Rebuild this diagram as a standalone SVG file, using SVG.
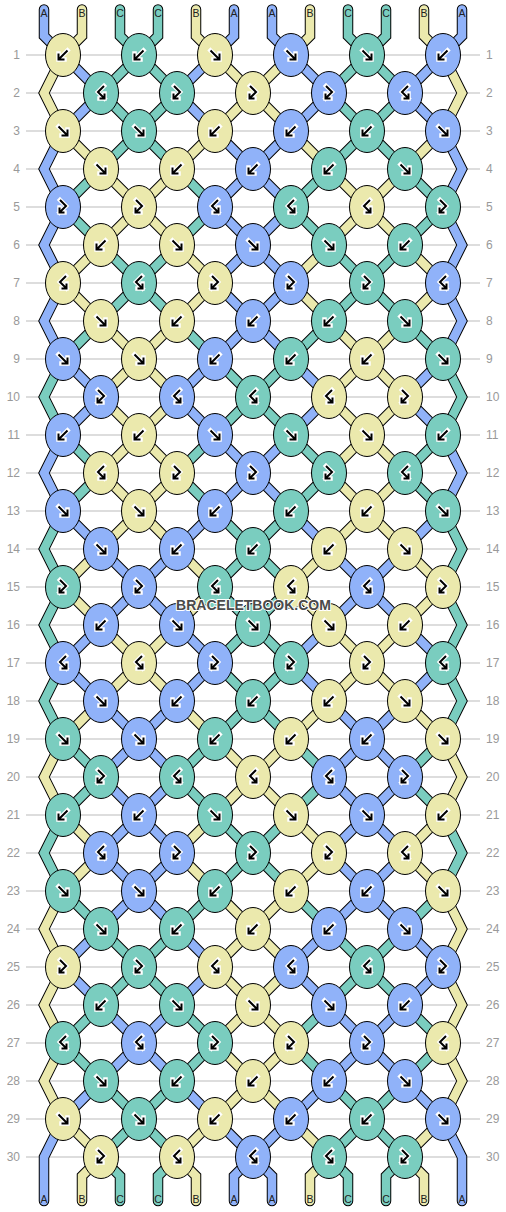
<svg xmlns="http://www.w3.org/2000/svg" width="506" height="1212" viewBox="0 0 506 1212">
<style>
.grid{stroke:#bbb;stroke-width:1;fill:none}
.num{font-family:"Liberation Sans",Arial,sans-serif;font-size:12px;fill:#999}
.nl{text-anchor:end}
.lab{font-family:"Liberation Sans",Arial,sans-serif;font-size:10.5px;fill:#222;text-anchor:middle}
.ol{fill:none;stroke:#000;stroke-width:10.5}
.fl{fill:none;stroke-width:8.5}
.sA{stroke:#90b2f9}.sB{stroke:#ebe9ad}.sC{stroke:#7acdbf}
.kA{fill:#90b2f9}.kB{fill:#ebe9ad}.kC{fill:#7acdbf}
ellipse{stroke:#000;stroke-width:1}
.aw{fill:none;stroke:#fff;stroke-width:4.5;stroke-linecap:square}
.ab{fill:none;stroke:#000;stroke-width:2}
.wm{font-family:"Liberation Sans",Arial,sans-serif;font-size:14px;font-weight:bold;fill:#4a4a4a;stroke:#fff;stroke-width:2;paint-order:stroke;text-anchor:middle}
</style>
<defs>
<path id="oa" d="M215,0L253,38M291,0L253,38"/>
<path id="ob" d="M63,0L101,38M215,0L177,38M291,0L329,38M443,0L405,38"/>
<path id="oc" d="M139,0L101,38M139,0L177,38M367,0L329,38M367,0L405,38"/>
<path id="ea" d="M253,0L215,38M253,0L291,38"/>
<path id="eb" d="M101,0L63,38M177,0L215,38M329,0L291,38M405,0L443,38"/>
<path id="ec" d="M101,0L139,38M177,0L139,38M329,0L367,38M405,0L367,38"/>
<path id="ch" d="M63,0L44,38L63,76M443,0L462,38L443,76"/>
<g id="oall"><use href="#oa"/><use href="#ob"/><use href="#oc"/></g>
<g id="eall"><use href="#ea"/><use href="#eb"/><use href="#ec"/></g>
<path id="tpA" stroke-linecap="round" d="M44,9.5V36L63,55M234,9.5V36L215,55M272,9.5V36L291,55M462,9.5V36L443,55"/>
<path id="tpB" stroke-linecap="round" d="M82,9.5V36L63,55M196,9.5V36L215,55M310,9.5V36L291,55M424,9.5V36L443,55"/>
<path id="tpC" stroke-linecap="round" d="M120,9.5V36L139,55M158,9.5V36L139,55M348,9.5V36L367,55M386,9.5V36L367,55"/>
<path id="btA" stroke-linecap="round" d="M63,1119L44,1157V1201M443,1119L462,1157V1201M253,1157L234,1176V1201M253,1157L272,1176V1201"/>
<path id="btB" stroke-linecap="round" d="M101,1157L82,1176V1201M177,1157L196,1176V1201M329,1157L310,1176V1201M405,1157L424,1176V1201"/>
<path id="btC" stroke-linecap="round" d="M101,1157L120,1176V1201M177,1157L158,1176V1201M329,1157L348,1176V1201M405,1157L386,1176V1201"/>
<g id="aF"><path class="aw" d="M-4.5,-4.5L4,4M4.5,-1.5V4.5H-1.5"/><path class="ab" d="M-4.5,-4.5L4,4M4.5,-1.5V4.5H-1.5"/></g>
<g id="aB"><path class="aw" d="M4.5,-4.5L-4,4M-4.5,-1.5V4.5H1.5"/><path class="ab" d="M4.5,-4.5L-4,4M-4.5,-1.5V4.5H1.5"/></g>
<g id="afb"><path class="aw" d="M-3,-7L3,-1L-3.5,5.5M-3.5,0.5V5.5H1.5"/><path class="ab" d="M-3,-7L3,-1L-3.5,5.5M-3.5,0.5V5.5H1.5"/></g>
<g id="abf"><path class="aw" d="M3,-7L-3,-1L3.5,5.5M3.5,0.5V5.5H-1.5"/><path class="ab" d="M3,-7L-3,-1L3.5,5.5M3.5,0.5V5.5H-1.5"/></g>
</defs>
<rect width="506" height="1212" fill="#fff"/>
<path class="grid" d="M26,55H480M26,93H480M26,131H480M26,169H480M26,207H480M26,245H480M26,283H480M26,321H480M26,359H480M26,397H480M26,435H480M26,473H480M26,511H480M26,549H480M26,587H480M26,625H480M26,663H480M26,701H480M26,739H480M26,777H480M26,815H480M26,853H480M26,891H480M26,929H480M26,967H480M26,1005H480M26,1043H480M26,1081H480M26,1119H480M26,1157H480"/>
<g id="row-numbers">
<text class="num nl" x="20" y="59">1</text><text class="num" x="486" y="59">1</text>
<text class="num nl" x="20" y="97">2</text><text class="num" x="486" y="97">2</text>
<text class="num nl" x="20" y="135">3</text><text class="num" x="486" y="135">3</text>
<text class="num nl" x="20" y="173">4</text><text class="num" x="486" y="173">4</text>
<text class="num nl" x="20" y="211">5</text><text class="num" x="486" y="211">5</text>
<text class="num nl" x="20" y="249">6</text><text class="num" x="486" y="249">6</text>
<text class="num nl" x="20" y="287">7</text><text class="num" x="486" y="287">7</text>
<text class="num nl" x="20" y="325">8</text><text class="num" x="486" y="325">8</text>
<text class="num nl" x="20" y="363">9</text><text class="num" x="486" y="363">9</text>
<text class="num nl" x="20" y="401">10</text><text class="num" x="486" y="401">10</text>
<text class="num nl" x="20" y="439">11</text><text class="num" x="486" y="439">11</text>
<text class="num nl" x="20" y="477">12</text><text class="num" x="486" y="477">12</text>
<text class="num nl" x="20" y="515">13</text><text class="num" x="486" y="515">13</text>
<text class="num nl" x="20" y="553">14</text><text class="num" x="486" y="553">14</text>
<text class="num nl" x="20" y="591">15</text><text class="num" x="486" y="591">15</text>
<text class="num nl" x="20" y="629">16</text><text class="num" x="486" y="629">16</text>
<text class="num nl" x="20" y="667">17</text><text class="num" x="486" y="667">17</text>
<text class="num nl" x="20" y="705">18</text><text class="num" x="486" y="705">18</text>
<text class="num nl" x="20" y="743">19</text><text class="num" x="486" y="743">19</text>
<text class="num nl" x="20" y="781">20</text><text class="num" x="486" y="781">20</text>
<text class="num nl" x="20" y="819">21</text><text class="num" x="486" y="819">21</text>
<text class="num nl" x="20" y="857">22</text><text class="num" x="486" y="857">22</text>
<text class="num nl" x="20" y="895">23</text><text class="num" x="486" y="895">23</text>
<text class="num nl" x="20" y="933">24</text><text class="num" x="486" y="933">24</text>
<text class="num nl" x="20" y="971">25</text><text class="num" x="486" y="971">25</text>
<text class="num nl" x="20" y="1009">26</text><text class="num" x="486" y="1009">26</text>
<text class="num nl" x="20" y="1047">27</text><text class="num" x="486" y="1047">27</text>
<text class="num nl" x="20" y="1085">28</text><text class="num" x="486" y="1085">28</text>
<text class="num nl" x="20" y="1123">29</text><text class="num" x="486" y="1123">29</text>
<text class="num nl" x="20" y="1161">30</text><text class="num" x="486" y="1161">30</text>
</g>
<g id="connectors">
<g class="ol">
<use href="#oall" y="55"/><use href="#oall" y="131"/><use href="#oall" y="207"/><use href="#oall" y="283"/><use href="#oall" y="359"/><use href="#oall" y="435"/><use href="#oall" y="511"/><use href="#oall" y="587"/><use href="#oall" y="663"/><use href="#oall" y="739"/><use href="#oall" y="815"/><use href="#oall" y="891"/><use href="#oall" y="967"/><use href="#oall" y="1043"/><use href="#oall" y="1119"/>
<use href="#eall" y="93"/><use href="#eall" y="169"/><use href="#eall" y="245"/><use href="#eall" y="321"/><use href="#eall" y="397"/><use href="#eall" y="473"/><use href="#eall" y="549"/><use href="#eall" y="625"/><use href="#eall" y="701"/><use href="#eall" y="777"/><use href="#eall" y="853"/><use href="#eall" y="929"/><use href="#eall" y="1005"/><use href="#eall" y="1081"/>
<use href="#ch" y="55"/><use href="#ch" y="131"/><use href="#ch" y="207"/><use href="#ch" y="283"/><use href="#ch" y="359"/><use href="#ch" y="435"/><use href="#ch" y="511"/><use href="#ch" y="587"/><use href="#ch" y="663"/><use href="#ch" y="739"/><use href="#ch" y="815"/><use href="#ch" y="891"/><use href="#ch" y="967"/><use href="#ch" y="1043"/>
<use href="#tpA"/><use href="#tpB"/><use href="#tpC"/><use href="#btA"/><use href="#btB"/><use href="#btC"/>
</g>
<g class="fl">
<use href="#oa" y="55" class="sB"/><use href="#ob" y="55" class="sA"/><use href="#oc" y="55" class="sC"/>
<use href="#oa" y="131" class="sA"/><use href="#ob" y="131" class="sB"/><use href="#oc" y="131" class="sC"/>
<use href="#oa" y="207" class="sA"/><use href="#ob" y="207" class="sC"/><use href="#oc" y="207" class="sB"/>
<use href="#oa" y="283" class="sA"/><use href="#ob" y="283" class="sB"/><use href="#oc" y="283" class="sC"/>
<use href="#oa" y="359" class="sC"/><use href="#ob" y="359" class="sA"/><use href="#oc" y="359" class="sB"/>
<use href="#oa" y="435" class="sA"/><use href="#ob" y="435" class="sC"/><use href="#oc" y="435" class="sB"/>
<use href="#oa" y="511" class="sC"/><use href="#ob" y="511" class="sA"/><use href="#oc" y="511" class="sB"/>
<use href="#oa" y="587" class="sC"/><use href="#ob" y="587" class="sB"/><use href="#oc" y="587" class="sA"/>
<use href="#oa" y="663" class="sC"/><use href="#ob" y="663" class="sA"/><use href="#oc" y="663" class="sB"/>
<use href="#oa" y="739" class="sB"/><use href="#ob" y="739" class="sC"/><use href="#oc" y="739" class="sA"/>
<use href="#oa" y="815" class="sC"/><use href="#ob" y="815" class="sB"/><use href="#oc" y="815" class="sA"/>
<use href="#oa" y="891" class="sB"/><use href="#ob" y="891" class="sC"/><use href="#oc" y="891" class="sA"/>
<use href="#oa" y="967" class="sB"/><use href="#ob" y="967" class="sA"/><use href="#oc" y="967" class="sC"/>
<use href="#oa" y="1043" class="sB"/><use href="#ob" y="1043" class="sC"/><use href="#oc" y="1043" class="sA"/>
<use href="#oa" y="1119" class="sA"/><use href="#ob" y="1119" class="sB"/><use href="#oc" y="1119" class="sC"/>
<use href="#ea" y="93" class="sB"/><use href="#eb" y="93" class="sA"/><use href="#ec" y="93" class="sC"/>
<use href="#ea" y="169" class="sA"/><use href="#eb" y="169" class="sC"/><use href="#ec" y="169" class="sB"/>
<use href="#ea" y="245" class="sA"/><use href="#eb" y="245" class="sB"/><use href="#ec" y="245" class="sC"/>
<use href="#ea" y="321" class="sA"/><use href="#eb" y="321" class="sC"/><use href="#ec" y="321" class="sB"/>
<use href="#ea" y="397" class="sC"/><use href="#eb" y="397" class="sA"/><use href="#ec" y="397" class="sB"/>
<use href="#ea" y="473" class="sA"/><use href="#eb" y="473" class="sC"/><use href="#ec" y="473" class="sB"/>
<use href="#ea" y="549" class="sC"/><use href="#eb" y="549" class="sB"/><use href="#ec" y="549" class="sA"/>
<use href="#ea" y="625" class="sC"/><use href="#eb" y="625" class="sA"/><use href="#ec" y="625" class="sB"/>
<use href="#ea" y="701" class="sC"/><use href="#eb" y="701" class="sB"/><use href="#ec" y="701" class="sA"/>
<use href="#ea" y="777" class="sB"/><use href="#eb" y="777" class="sC"/><use href="#ec" y="777" class="sA"/>
<use href="#ea" y="853" class="sC"/><use href="#eb" y="853" class="sB"/><use href="#ec" y="853" class="sA"/>
<use href="#ea" y="929" class="sB"/><use href="#eb" y="929" class="sA"/><use href="#ec" y="929" class="sC"/>
<use href="#ea" y="1005" class="sB"/><use href="#eb" y="1005" class="sC"/><use href="#ec" y="1005" class="sA"/>
<use href="#ea" y="1081" class="sB"/><use href="#eb" y="1081" class="sA"/><use href="#ec" y="1081" class="sC"/>
<use href="#ch" y="55" class="sB"/><use href="#ch" y="131" class="sA"/><use href="#ch" y="207" class="sA"/><use href="#ch" y="283" class="sA"/><use href="#ch" y="359" class="sC"/><use href="#ch" y="435" class="sA"/><use href="#ch" y="511" class="sC"/><use href="#ch" y="587" class="sC"/><use href="#ch" y="663" class="sC"/><use href="#ch" y="739" class="sB"/><use href="#ch" y="815" class="sC"/><use href="#ch" y="891" class="sB"/><use href="#ch" y="967" class="sB"/><use href="#ch" y="1043" class="sB"/>
<use href="#tpA" class="sA"/><use href="#tpB" class="sB"/><use href="#tpC" class="sC"/><use href="#btA" class="sA"/><use href="#btB" class="sB"/><use href="#btC" class="sC"/>
</g>
</g>
<g id="string-labels">
<text class="lab" x="44" y="16.5">A</text><text class="lab" x="82" y="16.5">B</text><text class="lab" x="120" y="16.5">C</text><text class="lab" x="158" y="16.5">C</text><text class="lab" x="196" y="16.5">B</text><text class="lab" x="234" y="16.5">A</text><text class="lab" x="272" y="16.5">A</text><text class="lab" x="310" y="16.5">B</text><text class="lab" x="348" y="16.5">C</text><text class="lab" x="386" y="16.5">C</text><text class="lab" x="424" y="16.5">B</text><text class="lab" x="462" y="16.5">A</text>
<text class="lab" x="44" y="1203">A</text><text class="lab" x="82" y="1203">B</text><text class="lab" x="120" y="1203">C</text><text class="lab" x="158" y="1203">C</text><text class="lab" x="196" y="1203">B</text><text class="lab" x="234" y="1203">A</text><text class="lab" x="272" y="1203">A</text><text class="lab" x="310" y="1203">B</text><text class="lab" x="348" y="1203">C</text><text class="lab" x="386" y="1203">C</text><text class="lab" x="424" y="1203">B</text><text class="lab" x="462" y="1203">A</text>
</g>
<g id="knots">
<g id="k1-1"><ellipse class="kB" cx="63" cy="55" rx="17.5" ry="21.5"/><use href="#aB" x="63" y="55"/></g>
<g id="k1-2"><ellipse class="kC" cx="139" cy="55" rx="17.5" ry="21.5"/><use href="#aB" x="139" y="55"/></g>
<g id="k1-3"><ellipse class="kB" cx="215" cy="55" rx="17.5" ry="21.5"/><use href="#aF" x="215" y="55"/></g>
<g id="k1-4"><ellipse class="kA" cx="291" cy="55" rx="17.5" ry="21.5"/><use href="#aF" x="291" y="55"/></g>
<g id="k1-5"><ellipse class="kC" cx="367" cy="55" rx="17.5" ry="21.5"/><use href="#aF" x="367" y="55"/></g>
<g id="k1-6"><ellipse class="kA" cx="443" cy="55" rx="17.5" ry="21.5"/><use href="#aB" x="443" y="55"/></g>
<g id="k2-1"><ellipse class="kC" cx="101" cy="93" rx="17.5" ry="21.5"/><use href="#abf" x="101" y="93"/></g>
<g id="k2-2"><ellipse class="kC" cx="177" cy="93" rx="17.5" ry="21.5"/><use href="#afb" x="177" y="93"/></g>
<g id="k2-3"><ellipse class="kB" cx="253" cy="93" rx="17.5" ry="21.5"/><use href="#afb" x="253" y="93"/></g>
<g id="k2-4"><ellipse class="kA" cx="329" cy="93" rx="17.5" ry="21.5"/><use href="#afb" x="329" y="93"/></g>
<g id="k2-5"><ellipse class="kA" cx="405" cy="93" rx="17.5" ry="21.5"/><use href="#abf" x="405" y="93"/></g>
<g id="k3-1"><ellipse class="kB" cx="63" cy="131" rx="17.5" ry="21.5"/><use href="#aF" x="63" y="131"/></g>
<g id="k3-2"><ellipse class="kC" cx="139" cy="131" rx="17.5" ry="21.5"/><use href="#aF" x="139" y="131"/></g>
<g id="k3-3"><ellipse class="kB" cx="215" cy="131" rx="17.5" ry="21.5"/><use href="#aB" x="215" y="131"/></g>
<g id="k3-4"><ellipse class="kA" cx="291" cy="131" rx="17.5" ry="21.5"/><use href="#aB" x="291" y="131"/></g>
<g id="k3-5"><ellipse class="kC" cx="367" cy="131" rx="17.5" ry="21.5"/><use href="#aB" x="367" y="131"/></g>
<g id="k3-6"><ellipse class="kA" cx="443" cy="131" rx="17.5" ry="21.5"/><use href="#aF" x="443" y="131"/></g>
<g id="k4-1"><ellipse class="kB" cx="101" cy="169" rx="17.5" ry="21.5"/><use href="#aF" x="101" y="169"/></g>
<g id="k4-2"><ellipse class="kB" cx="177" cy="169" rx="17.5" ry="21.5"/><use href="#aB" x="177" y="169"/></g>
<g id="k4-3"><ellipse class="kA" cx="253" cy="169" rx="17.5" ry="21.5"/><use href="#aB" x="253" y="169"/></g>
<g id="k4-4"><ellipse class="kC" cx="329" cy="169" rx="17.5" ry="21.5"/><use href="#aB" x="329" y="169"/></g>
<g id="k4-5"><ellipse class="kC" cx="405" cy="169" rx="17.5" ry="21.5"/><use href="#aF" x="405" y="169"/></g>
<g id="k5-1"><ellipse class="kA" cx="63" cy="207" rx="17.5" ry="21.5"/><use href="#afb" x="63" y="207"/></g>
<g id="k5-2"><ellipse class="kB" cx="139" cy="207" rx="17.5" ry="21.5"/><use href="#afb" x="139" y="207"/></g>
<g id="k5-3"><ellipse class="kA" cx="215" cy="207" rx="17.5" ry="21.5"/><use href="#abf" x="215" y="207"/></g>
<g id="k5-4"><ellipse class="kC" cx="291" cy="207" rx="17.5" ry="21.5"/><use href="#abf" x="291" y="207"/></g>
<g id="k5-5"><ellipse class="kB" cx="367" cy="207" rx="17.5" ry="21.5"/><use href="#abf" x="367" y="207"/></g>
<g id="k5-6"><ellipse class="kC" cx="443" cy="207" rx="17.5" ry="21.5"/><use href="#afb" x="443" y="207"/></g>
<g id="k6-1"><ellipse class="kB" cx="101" cy="245" rx="17.5" ry="21.5"/><use href="#aB" x="101" y="245"/></g>
<g id="k6-2"><ellipse class="kB" cx="177" cy="245" rx="17.5" ry="21.5"/><use href="#aF" x="177" y="245"/></g>
<g id="k6-3"><ellipse class="kA" cx="253" cy="245" rx="17.5" ry="21.5"/><use href="#aF" x="253" y="245"/></g>
<g id="k6-4"><ellipse class="kC" cx="329" cy="245" rx="17.5" ry="21.5"/><use href="#aF" x="329" y="245"/></g>
<g id="k6-5"><ellipse class="kC" cx="405" cy="245" rx="17.5" ry="21.5"/><use href="#aB" x="405" y="245"/></g>
<g id="k7-1"><ellipse class="kB" cx="63" cy="283" rx="17.5" ry="21.5"/><use href="#abf" x="63" y="283"/></g>
<g id="k7-2"><ellipse class="kC" cx="139" cy="283" rx="17.5" ry="21.5"/><use href="#abf" x="139" y="283"/></g>
<g id="k7-3"><ellipse class="kB" cx="215" cy="283" rx="17.5" ry="21.5"/><use href="#afb" x="215" y="283"/></g>
<g id="k7-4"><ellipse class="kA" cx="291" cy="283" rx="17.5" ry="21.5"/><use href="#afb" x="291" y="283"/></g>
<g id="k7-5"><ellipse class="kC" cx="367" cy="283" rx="17.5" ry="21.5"/><use href="#afb" x="367" y="283"/></g>
<g id="k7-6"><ellipse class="kA" cx="443" cy="283" rx="17.5" ry="21.5"/><use href="#abf" x="443" y="283"/></g>
<g id="k8-1"><ellipse class="kB" cx="101" cy="321" rx="17.5" ry="21.5"/><use href="#aF" x="101" y="321"/></g>
<g id="k8-2"><ellipse class="kB" cx="177" cy="321" rx="17.5" ry="21.5"/><use href="#aB" x="177" y="321"/></g>
<g id="k8-3"><ellipse class="kA" cx="253" cy="321" rx="17.5" ry="21.5"/><use href="#aB" x="253" y="321"/></g>
<g id="k8-4"><ellipse class="kC" cx="329" cy="321" rx="17.5" ry="21.5"/><use href="#aB" x="329" y="321"/></g>
<g id="k8-5"><ellipse class="kC" cx="405" cy="321" rx="17.5" ry="21.5"/><use href="#aF" x="405" y="321"/></g>
<g id="k9-1"><ellipse class="kA" cx="63" cy="359" rx="17.5" ry="21.5"/><use href="#aF" x="63" y="359"/></g>
<g id="k9-2"><ellipse class="kB" cx="139" cy="359" rx="17.5" ry="21.5"/><use href="#aF" x="139" y="359"/></g>
<g id="k9-3"><ellipse class="kA" cx="215" cy="359" rx="17.5" ry="21.5"/><use href="#aB" x="215" y="359"/></g>
<g id="k9-4"><ellipse class="kC" cx="291" cy="359" rx="17.5" ry="21.5"/><use href="#aB" x="291" y="359"/></g>
<g id="k9-5"><ellipse class="kB" cx="367" cy="359" rx="17.5" ry="21.5"/><use href="#aB" x="367" y="359"/></g>
<g id="k9-6"><ellipse class="kC" cx="443" cy="359" rx="17.5" ry="21.5"/><use href="#aF" x="443" y="359"/></g>
<g id="k10-1"><ellipse class="kA" cx="101" cy="397" rx="17.5" ry="21.5"/><use href="#afb" x="101" y="397"/></g>
<g id="k10-2"><ellipse class="kA" cx="177" cy="397" rx="17.5" ry="21.5"/><use href="#abf" x="177" y="397"/></g>
<g id="k10-3"><ellipse class="kC" cx="253" cy="397" rx="17.5" ry="21.5"/><use href="#abf" x="253" y="397"/></g>
<g id="k10-4"><ellipse class="kB" cx="329" cy="397" rx="17.5" ry="21.5"/><use href="#abf" x="329" y="397"/></g>
<g id="k10-5"><ellipse class="kB" cx="405" cy="397" rx="17.5" ry="21.5"/><use href="#afb" x="405" y="397"/></g>
<g id="k11-1"><ellipse class="kA" cx="63" cy="435" rx="17.5" ry="21.5"/><use href="#aB" x="63" y="435"/></g>
<g id="k11-2"><ellipse class="kB" cx="139" cy="435" rx="17.5" ry="21.5"/><use href="#aB" x="139" y="435"/></g>
<g id="k11-3"><ellipse class="kA" cx="215" cy="435" rx="17.5" ry="21.5"/><use href="#aF" x="215" y="435"/></g>
<g id="k11-4"><ellipse class="kC" cx="291" cy="435" rx="17.5" ry="21.5"/><use href="#aF" x="291" y="435"/></g>
<g id="k11-5"><ellipse class="kB" cx="367" cy="435" rx="17.5" ry="21.5"/><use href="#aF" x="367" y="435"/></g>
<g id="k11-6"><ellipse class="kC" cx="443" cy="435" rx="17.5" ry="21.5"/><use href="#aB" x="443" y="435"/></g>
<g id="k12-1"><ellipse class="kB" cx="101" cy="473" rx="17.5" ry="21.5"/><use href="#abf" x="101" y="473"/></g>
<g id="k12-2"><ellipse class="kB" cx="177" cy="473" rx="17.5" ry="21.5"/><use href="#afb" x="177" y="473"/></g>
<g id="k12-3"><ellipse class="kA" cx="253" cy="473" rx="17.5" ry="21.5"/><use href="#afb" x="253" y="473"/></g>
<g id="k12-4"><ellipse class="kC" cx="329" cy="473" rx="17.5" ry="21.5"/><use href="#afb" x="329" y="473"/></g>
<g id="k12-5"><ellipse class="kC" cx="405" cy="473" rx="17.5" ry="21.5"/><use href="#abf" x="405" y="473"/></g>
<g id="k13-1"><ellipse class="kA" cx="63" cy="511" rx="17.5" ry="21.5"/><use href="#aF" x="63" y="511"/></g>
<g id="k13-2"><ellipse class="kB" cx="139" cy="511" rx="17.5" ry="21.5"/><use href="#aF" x="139" y="511"/></g>
<g id="k13-3"><ellipse class="kA" cx="215" cy="511" rx="17.5" ry="21.5"/><use href="#aB" x="215" y="511"/></g>
<g id="k13-4"><ellipse class="kC" cx="291" cy="511" rx="17.5" ry="21.5"/><use href="#aB" x="291" y="511"/></g>
<g id="k13-5"><ellipse class="kB" cx="367" cy="511" rx="17.5" ry="21.5"/><use href="#aB" x="367" y="511"/></g>
<g id="k13-6"><ellipse class="kC" cx="443" cy="511" rx="17.5" ry="21.5"/><use href="#aF" x="443" y="511"/></g>
<g id="k14-1"><ellipse class="kA" cx="101" cy="549" rx="17.5" ry="21.5"/><use href="#aF" x="101" y="549"/></g>
<g id="k14-2"><ellipse class="kA" cx="177" cy="549" rx="17.5" ry="21.5"/><use href="#aB" x="177" y="549"/></g>
<g id="k14-3"><ellipse class="kC" cx="253" cy="549" rx="17.5" ry="21.5"/><use href="#aB" x="253" y="549"/></g>
<g id="k14-4"><ellipse class="kB" cx="329" cy="549" rx="17.5" ry="21.5"/><use href="#aB" x="329" y="549"/></g>
<g id="k14-5"><ellipse class="kB" cx="405" cy="549" rx="17.5" ry="21.5"/><use href="#aF" x="405" y="549"/></g>
<g id="k15-1"><ellipse class="kC" cx="63" cy="587" rx="17.5" ry="21.5"/><use href="#afb" x="63" y="587"/></g>
<g id="k15-2"><ellipse class="kA" cx="139" cy="587" rx="17.5" ry="21.5"/><use href="#afb" x="139" y="587"/></g>
<g id="k15-3"><ellipse class="kC" cx="215" cy="587" rx="17.5" ry="21.5"/><use href="#abf" x="215" y="587"/></g>
<g id="k15-4"><ellipse class="kB" cx="291" cy="587" rx="17.5" ry="21.5"/><use href="#abf" x="291" y="587"/></g>
<g id="k15-5"><ellipse class="kA" cx="367" cy="587" rx="17.5" ry="21.5"/><use href="#abf" x="367" y="587"/></g>
<g id="k15-6"><ellipse class="kB" cx="443" cy="587" rx="17.5" ry="21.5"/><use href="#afb" x="443" y="587"/></g>
<g id="k16-1"><ellipse class="kA" cx="101" cy="625" rx="17.5" ry="21.5"/><use href="#aB" x="101" y="625"/></g>
<g id="k16-2"><ellipse class="kA" cx="177" cy="625" rx="17.5" ry="21.5"/><use href="#aF" x="177" y="625"/></g>
<g id="k16-3"><ellipse class="kC" cx="253" cy="625" rx="17.5" ry="21.5"/><use href="#aF" x="253" y="625"/></g>
<g id="k16-4"><ellipse class="kB" cx="329" cy="625" rx="17.5" ry="21.5"/><use href="#aF" x="329" y="625"/></g>
<g id="k16-5"><ellipse class="kB" cx="405" cy="625" rx="17.5" ry="21.5"/><use href="#aB" x="405" y="625"/></g>
<g id="k17-1"><ellipse class="kA" cx="63" cy="663" rx="17.5" ry="21.5"/><use href="#abf" x="63" y="663"/></g>
<g id="k17-2"><ellipse class="kB" cx="139" cy="663" rx="17.5" ry="21.5"/><use href="#abf" x="139" y="663"/></g>
<g id="k17-3"><ellipse class="kA" cx="215" cy="663" rx="17.5" ry="21.5"/><use href="#afb" x="215" y="663"/></g>
<g id="k17-4"><ellipse class="kC" cx="291" cy="663" rx="17.5" ry="21.5"/><use href="#afb" x="291" y="663"/></g>
<g id="k17-5"><ellipse class="kB" cx="367" cy="663" rx="17.5" ry="21.5"/><use href="#afb" x="367" y="663"/></g>
<g id="k17-6"><ellipse class="kC" cx="443" cy="663" rx="17.5" ry="21.5"/><use href="#abf" x="443" y="663"/></g>
<g id="k18-1"><ellipse class="kA" cx="101" cy="701" rx="17.5" ry="21.5"/><use href="#aF" x="101" y="701"/></g>
<g id="k18-2"><ellipse class="kA" cx="177" cy="701" rx="17.5" ry="21.5"/><use href="#aB" x="177" y="701"/></g>
<g id="k18-3"><ellipse class="kC" cx="253" cy="701" rx="17.5" ry="21.5"/><use href="#aB" x="253" y="701"/></g>
<g id="k18-4"><ellipse class="kB" cx="329" cy="701" rx="17.5" ry="21.5"/><use href="#aB" x="329" y="701"/></g>
<g id="k18-5"><ellipse class="kB" cx="405" cy="701" rx="17.5" ry="21.5"/><use href="#aF" x="405" y="701"/></g>
<g id="k19-1"><ellipse class="kC" cx="63" cy="739" rx="17.5" ry="21.5"/><use href="#aF" x="63" y="739"/></g>
<g id="k19-2"><ellipse class="kA" cx="139" cy="739" rx="17.5" ry="21.5"/><use href="#aF" x="139" y="739"/></g>
<g id="k19-3"><ellipse class="kC" cx="215" cy="739" rx="17.5" ry="21.5"/><use href="#aB" x="215" y="739"/></g>
<g id="k19-4"><ellipse class="kB" cx="291" cy="739" rx="17.5" ry="21.5"/><use href="#aB" x="291" y="739"/></g>
<g id="k19-5"><ellipse class="kA" cx="367" cy="739" rx="17.5" ry="21.5"/><use href="#aB" x="367" y="739"/></g>
<g id="k19-6"><ellipse class="kB" cx="443" cy="739" rx="17.5" ry="21.5"/><use href="#aF" x="443" y="739"/></g>
<g id="k20-1"><ellipse class="kC" cx="101" cy="777" rx="17.5" ry="21.5"/><use href="#afb" x="101" y="777"/></g>
<g id="k20-2"><ellipse class="kC" cx="177" cy="777" rx="17.5" ry="21.5"/><use href="#abf" x="177" y="777"/></g>
<g id="k20-3"><ellipse class="kB" cx="253" cy="777" rx="17.5" ry="21.5"/><use href="#abf" x="253" y="777"/></g>
<g id="k20-4"><ellipse class="kA" cx="329" cy="777" rx="17.5" ry="21.5"/><use href="#abf" x="329" y="777"/></g>
<g id="k20-5"><ellipse class="kA" cx="405" cy="777" rx="17.5" ry="21.5"/><use href="#afb" x="405" y="777"/></g>
<g id="k21-1"><ellipse class="kC" cx="63" cy="815" rx="17.5" ry="21.5"/><use href="#aB" x="63" y="815"/></g>
<g id="k21-2"><ellipse class="kA" cx="139" cy="815" rx="17.5" ry="21.5"/><use href="#aB" x="139" y="815"/></g>
<g id="k21-3"><ellipse class="kC" cx="215" cy="815" rx="17.5" ry="21.5"/><use href="#aF" x="215" y="815"/></g>
<g id="k21-4"><ellipse class="kB" cx="291" cy="815" rx="17.5" ry="21.5"/><use href="#aF" x="291" y="815"/></g>
<g id="k21-5"><ellipse class="kA" cx="367" cy="815" rx="17.5" ry="21.5"/><use href="#aF" x="367" y="815"/></g>
<g id="k21-6"><ellipse class="kB" cx="443" cy="815" rx="17.5" ry="21.5"/><use href="#aB" x="443" y="815"/></g>
<g id="k22-1"><ellipse class="kA" cx="101" cy="853" rx="17.5" ry="21.5"/><use href="#abf" x="101" y="853"/></g>
<g id="k22-2"><ellipse class="kA" cx="177" cy="853" rx="17.5" ry="21.5"/><use href="#afb" x="177" y="853"/></g>
<g id="k22-3"><ellipse class="kC" cx="253" cy="853" rx="17.5" ry="21.5"/><use href="#afb" x="253" y="853"/></g>
<g id="k22-4"><ellipse class="kB" cx="329" cy="853" rx="17.5" ry="21.5"/><use href="#afb" x="329" y="853"/></g>
<g id="k22-5"><ellipse class="kB" cx="405" cy="853" rx="17.5" ry="21.5"/><use href="#abf" x="405" y="853"/></g>
<g id="k23-1"><ellipse class="kC" cx="63" cy="891" rx="17.5" ry="21.5"/><use href="#aF" x="63" y="891"/></g>
<g id="k23-2"><ellipse class="kA" cx="139" cy="891" rx="17.5" ry="21.5"/><use href="#aF" x="139" y="891"/></g>
<g id="k23-3"><ellipse class="kC" cx="215" cy="891" rx="17.5" ry="21.5"/><use href="#aB" x="215" y="891"/></g>
<g id="k23-4"><ellipse class="kB" cx="291" cy="891" rx="17.5" ry="21.5"/><use href="#aB" x="291" y="891"/></g>
<g id="k23-5"><ellipse class="kA" cx="367" cy="891" rx="17.5" ry="21.5"/><use href="#aB" x="367" y="891"/></g>
<g id="k23-6"><ellipse class="kB" cx="443" cy="891" rx="17.5" ry="21.5"/><use href="#aF" x="443" y="891"/></g>
<g id="k24-1"><ellipse class="kC" cx="101" cy="929" rx="17.5" ry="21.5"/><use href="#aF" x="101" y="929"/></g>
<g id="k24-2"><ellipse class="kC" cx="177" cy="929" rx="17.5" ry="21.5"/><use href="#aB" x="177" y="929"/></g>
<g id="k24-3"><ellipse class="kB" cx="253" cy="929" rx="17.5" ry="21.5"/><use href="#aB" x="253" y="929"/></g>
<g id="k24-4"><ellipse class="kA" cx="329" cy="929" rx="17.5" ry="21.5"/><use href="#aB" x="329" y="929"/></g>
<g id="k24-5"><ellipse class="kA" cx="405" cy="929" rx="17.5" ry="21.5"/><use href="#aF" x="405" y="929"/></g>
<g id="k25-1"><ellipse class="kB" cx="63" cy="967" rx="17.5" ry="21.5"/><use href="#afb" x="63" y="967"/></g>
<g id="k25-2"><ellipse class="kC" cx="139" cy="967" rx="17.5" ry="21.5"/><use href="#afb" x="139" y="967"/></g>
<g id="k25-3"><ellipse class="kB" cx="215" cy="967" rx="17.5" ry="21.5"/><use href="#abf" x="215" y="967"/></g>
<g id="k25-4"><ellipse class="kA" cx="291" cy="967" rx="17.5" ry="21.5"/><use href="#abf" x="291" y="967"/></g>
<g id="k25-5"><ellipse class="kC" cx="367" cy="967" rx="17.5" ry="21.5"/><use href="#abf" x="367" y="967"/></g>
<g id="k25-6"><ellipse class="kA" cx="443" cy="967" rx="17.5" ry="21.5"/><use href="#afb" x="443" y="967"/></g>
<g id="k26-1"><ellipse class="kC" cx="101" cy="1005" rx="17.5" ry="21.5"/><use href="#aB" x="101" y="1005"/></g>
<g id="k26-2"><ellipse class="kC" cx="177" cy="1005" rx="17.5" ry="21.5"/><use href="#aF" x="177" y="1005"/></g>
<g id="k26-3"><ellipse class="kB" cx="253" cy="1005" rx="17.5" ry="21.5"/><use href="#aF" x="253" y="1005"/></g>
<g id="k26-4"><ellipse class="kA" cx="329" cy="1005" rx="17.5" ry="21.5"/><use href="#aF" x="329" y="1005"/></g>
<g id="k26-5"><ellipse class="kA" cx="405" cy="1005" rx="17.5" ry="21.5"/><use href="#aB" x="405" y="1005"/></g>
<g id="k27-1"><ellipse class="kC" cx="63" cy="1043" rx="17.5" ry="21.5"/><use href="#abf" x="63" y="1043"/></g>
<g id="k27-2"><ellipse class="kA" cx="139" cy="1043" rx="17.5" ry="21.5"/><use href="#abf" x="139" y="1043"/></g>
<g id="k27-3"><ellipse class="kC" cx="215" cy="1043" rx="17.5" ry="21.5"/><use href="#afb" x="215" y="1043"/></g>
<g id="k27-4"><ellipse class="kB" cx="291" cy="1043" rx="17.5" ry="21.5"/><use href="#afb" x="291" y="1043"/></g>
<g id="k27-5"><ellipse class="kA" cx="367" cy="1043" rx="17.5" ry="21.5"/><use href="#afb" x="367" y="1043"/></g>
<g id="k27-6"><ellipse class="kB" cx="443" cy="1043" rx="17.5" ry="21.5"/><use href="#abf" x="443" y="1043"/></g>
<g id="k28-1"><ellipse class="kC" cx="101" cy="1081" rx="17.5" ry="21.5"/><use href="#aF" x="101" y="1081"/></g>
<g id="k28-2"><ellipse class="kC" cx="177" cy="1081" rx="17.5" ry="21.5"/><use href="#aB" x="177" y="1081"/></g>
<g id="k28-3"><ellipse class="kB" cx="253" cy="1081" rx="17.5" ry="21.5"/><use href="#aB" x="253" y="1081"/></g>
<g id="k28-4"><ellipse class="kA" cx="329" cy="1081" rx="17.5" ry="21.5"/><use href="#aB" x="329" y="1081"/></g>
<g id="k28-5"><ellipse class="kA" cx="405" cy="1081" rx="17.5" ry="21.5"/><use href="#aF" x="405" y="1081"/></g>
<g id="k29-1"><ellipse class="kB" cx="63" cy="1119" rx="17.5" ry="21.5"/><use href="#aF" x="63" y="1119"/></g>
<g id="k29-2"><ellipse class="kC" cx="139" cy="1119" rx="17.5" ry="21.5"/><use href="#aF" x="139" y="1119"/></g>
<g id="k29-3"><ellipse class="kB" cx="215" cy="1119" rx="17.5" ry="21.5"/><use href="#aB" x="215" y="1119"/></g>
<g id="k29-4"><ellipse class="kA" cx="291" cy="1119" rx="17.5" ry="21.5"/><use href="#aB" x="291" y="1119"/></g>
<g id="k29-5"><ellipse class="kC" cx="367" cy="1119" rx="17.5" ry="21.5"/><use href="#aB" x="367" y="1119"/></g>
<g id="k29-6"><ellipse class="kA" cx="443" cy="1119" rx="17.5" ry="21.5"/><use href="#aF" x="443" y="1119"/></g>
<g id="k30-1"><ellipse class="kB" cx="101" cy="1157" rx="17.5" ry="21.5"/><use href="#afb" x="101" y="1157"/></g>
<g id="k30-2"><ellipse class="kB" cx="177" cy="1157" rx="17.5" ry="21.5"/><use href="#abf" x="177" y="1157"/></g>
<g id="k30-3"><ellipse class="kA" cx="253" cy="1157" rx="17.5" ry="21.5"/><use href="#abf" x="253" y="1157"/></g>
<g id="k30-4"><ellipse class="kC" cx="329" cy="1157" rx="17.5" ry="21.5"/><use href="#abf" x="329" y="1157"/></g>
<g id="k30-5"><ellipse class="kC" cx="405" cy="1157" rx="17.5" ry="21.5"/><use href="#afb" x="405" y="1157"/></g>
</g>
<text class="wm" x="253.5" y="610">BRACELETBOOK.COM</text>
</svg>
